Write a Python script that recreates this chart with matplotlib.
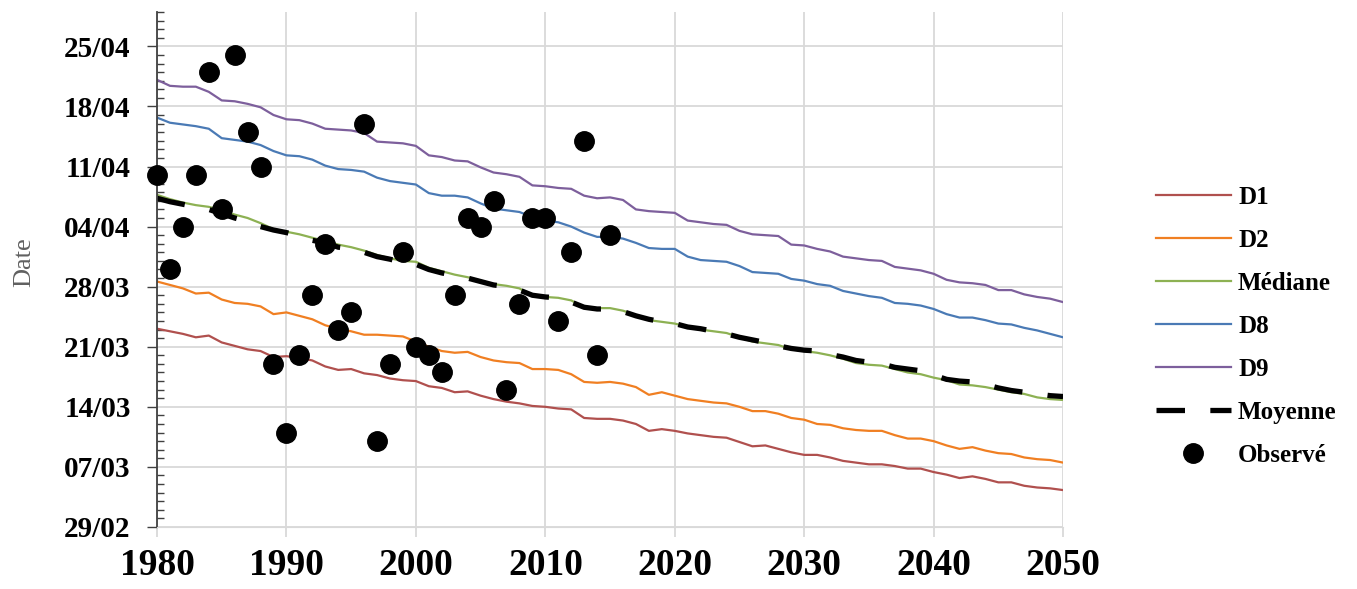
import numpy as np
import matplotlib
matplotlib.use("Agg")
import matplotlib.pyplot as plt
from matplotlib.ticker import MultipleLocator, FixedLocator

# y values are days counted from 29/02
years = np.arange(1980, 2051)

d1 = [23.1, 22.8, 22.5, 22.1, 22.3, 21.5, 21.1, 20.7, 20.5, 19.8,
      19.9, 19.7, 19.4, 18.7, 18.3, 18.4, 17.9, 17.7, 17.3, 17.1,
      17.0, 16.4, 16.2, 15.7, 15.8, 15.3, 14.9, 14.6, 14.4, 14.1,
      14.0, 13.8, 13.7, 12.7, 12.6, 12.6, 12.4, 12.0, 11.2, 11.4,
      11.2, 10.9, 10.7, 10.5, 10.4, 9.9, 9.4, 9.5, 9.1, 8.7,
      8.4, 8.4, 8.1, 7.7, 7.5, 7.3, 7.3, 7.1, 6.8, 6.8,
      6.4, 6.1, 5.7, 5.9, 5.6, 5.2, 5.2, 4.8, 4.6, 4.5, 4.3]

d2 = [28.6, 28.2, 27.8, 27.2, 27.3, 26.5, 26.1, 26.0, 25.7, 24.8,
      25.0, 24.6, 24.2, 23.5, 23.1, 22.8, 22.4, 22.4, 22.3, 22.2,
      21.6, 21.0, 20.5, 20.3, 20.4, 19.8, 19.4, 19.2, 19.1, 18.4,
      18.4, 18.3, 17.8, 16.9, 16.8, 16.9, 16.7, 16.3, 15.4, 15.7,
      15.3, 14.9, 14.7, 14.5, 14.4, 14.0, 13.5, 13.5, 13.2, 12.7,
      12.5, 12.0, 11.9, 11.5, 11.3, 11.2, 11.2, 10.7, 10.3, 10.3,
      10.0, 9.5, 9.1, 9.3, 8.9, 8.6, 8.5, 8.1, 7.9, 7.8, 7.5]

mediane = [38.7, 38.2, 37.8, 37.5, 37.3, 36.9, 36.4, 36.0, 35.4, 34.7,
           34.4, 34.1, 33.7, 33.3, 32.9, 32.6, 32.2, 31.7, 31.3, 31.0,
           30.9, 30.2, 29.8, 29.4, 29.1, 28.7, 28.3, 28.1, 27.8, 26.9,
           26.8, 26.7, 26.4, 25.6, 25.5, 25.5, 25.2, 24.7, 24.1, 23.9,
           23.7, 23.3, 23.0, 22.8, 22.6, 22.1, 21.6, 21.4, 21.2, 20.7,
           20.5, 20.3, 20.0, 19.6, 19.1, 18.9, 18.8, 18.4, 18.0, 17.8,
           17.4, 17.1, 16.6, 16.5, 16.3, 16.0, 15.7, 15.5, 15.1, 14.9, 14.8]

d8 = [47.7, 47.1, 46.9, 46.7, 46.4, 45.3, 45.1, 44.9, 44.5, 43.8,
      43.3, 43.2, 42.8, 42.1, 41.7, 41.6, 41.4, 40.7, 40.3, 40.1,
      39.9, 38.9, 38.6, 38.6, 38.4, 37.7, 37.1, 36.9, 36.7, 36.1,
      35.7, 35.5, 35.0, 34.3, 33.8, 33.8, 33.6, 33.1, 32.5, 32.4,
      32.4, 31.5, 31.1, 31.0, 30.9, 30.4, 29.7, 29.6, 29.5, 28.9,
      28.7, 28.3, 28.1, 27.5, 27.2, 26.9, 26.7, 26.1, 26.0, 25.8,
      25.4, 24.8, 24.4, 24.4, 24.1, 23.7, 23.6, 23.2, 22.9, 22.5, 22.1]

d9 = [52.1, 51.4, 51.3, 51.3, 50.7, 49.7, 49.6, 49.3, 48.9, 48.0,
      47.5, 47.4, 47.0, 46.4, 46.3, 46.2, 45.9, 44.9, 44.8, 44.7,
      44.4, 43.3, 43.1, 42.7, 42.6, 41.9, 41.3, 41.1, 40.8, 39.8,
      39.7, 39.5, 39.4, 38.6, 38.3, 38.4, 38.1, 37.0, 36.8, 36.7,
      36.6, 35.7, 35.5, 35.3, 35.2, 34.5, 34.1, 34.0, 33.9, 32.9,
      32.8, 32.4, 32.1, 31.5, 31.3, 31.1, 31.0, 30.3, 30.1, 29.9,
      29.5, 28.8, 28.5, 28.4, 28.2, 27.6, 27.6, 27.1, 26.8, 26.6, 26.2]

moyenne = [38.3, 37.9, 37.6, 37.3, 37.0, 36.5, 36.0, 35.6, 35.0, 34.6,
           34.3, 33.9, 33.4, 33.1, 32.6, 32.4, 32.0, 31.5, 31.2, 30.8,
           30.6, 30.0, 29.6, 29.3, 29.0, 28.6, 28.2, 28.0, 27.6, 27.0,
           26.8, 26.7, 26.2, 25.6, 25.4, 25.4, 25.1, 24.6, 24.2, 23.9,
           23.7, 23.3, 23.1, 22.8, 22.5, 22.1, 21.8, 21.5, 21.1, 20.8,
           20.6, 20.5, 20.1, 19.8, 19.4, 19.2, 19.0, 18.6, 18.4, 18.2,
           17.7, 17.2, 17.0, 16.9, 16.6, 16.2, 15.9, 15.7, 15.5, 15.3, 15.2]

obs_years = np.arange(1980, 2016)
observe = [41, 30, 35, 41, 53, 37, 55, 46, 42, 19,
           11, 20, 27, 33, 23, 25, 47, 10, 19, 32,
           21, 20, 18, 27, 36, 35, 38, 16, 26, 36,
           36, 24, 32, 45, 20, 34]

ytick_pos = [0, 7, 14, 21, 28, 35, 42, 49, 56]
ytick_labels = ["29/02", "07/03", "14/03", "21/03", "28/03",
                "04/04", "11/04", "18/04", "25/04"]
xtick_pos = [1980, 1990, 2000, 2010, 2020, 2030, 2040, 2050]

serif = "Liberation Serif"
grid_c = "#d9d9d9"

fig = plt.figure(figsize=(13.57, 5.89), dpi=100)
ax = fig.add_axes([0.1157, 0.1053, 0.6677, 0.8743])

ax.plot(years, d1, color="#b0504e", lw=1.6, label="D1")
ax.plot(years, d2, color="#f07f22", lw=1.6, label="D2")
ax.plot(years, mediane, color="#8db153", lw=1.6, label="Médiane")
ax.plot(years, d8, color="#4a7ab5", lw=1.6, label="D8")
ax.plot(years, d9, color="#7d5f9c", lw=1.6, label="D9")
ax.plot(years, moyenne, color="black", lw=3.8, dashes=(5.4, 4.8), label="Moyenne")
ax.plot(obs_years, observe, "o", color="black", ms=14, clip_on=False,
        zorder=5, label="Observé")

ax.set_xlim(1980, 2050)
ax.set_ylim(0, 60)

ax.yaxis.set_major_locator(FixedLocator(ytick_pos))
ax.set_yticklabels(ytick_labels)
ax.yaxis.set_minor_locator(MultipleLocator(1))
ax.xaxis.set_major_locator(FixedLocator(xtick_pos))

ax.grid(True, which="major", color=grid_c, lw=1.3)
ax.set_axisbelow(True)

ax.spines["top"].set_visible(False)
ax.spines["right"].set_visible(False)
ax.spines["bottom"].set_color(grid_c)
ax.spines["left"].set_color("#404040")
ax.spines["left"].set_linewidth(1.3)

ax.tick_params(axis="y", which="major", direction="out", length=7, width=1,
               color="#404040", pad=12)
ax.tick_params(axis="y", which="minor", direction="in", length=5, width=1,
               color="#404040")
ax.tick_params(axis="x", which="major", direction="out", length=7, width=1.3,
               color=grid_c, pad=8)

for lab in ax.get_yticklabels():
    lab.set_fontfamily(serif)
    lab.set_fontweight("bold")
    lab.set_fontsize(21)
for lab in ax.get_xticklabels():
    lab.set_fontfamily(serif)
    lab.set_fontweight("bold")
    lab.set_fontsize(27)

fig.text(0.018, 0.555, "Date", rotation=90, ha="center", va="center",
         fontsize=19, family=serif, color="#606060")

leg = fig.legend(loc="upper left", bbox_to_anchor=(0.835, 0.722),
                 frameon=False, handlelength=3.0, handletextpad=0.3,
                 labelspacing=0.8, numpoints=1,
                 prop={"family": serif, "weight": "bold", "size": 18})

fig.savefig("out.png", dpi=100)
